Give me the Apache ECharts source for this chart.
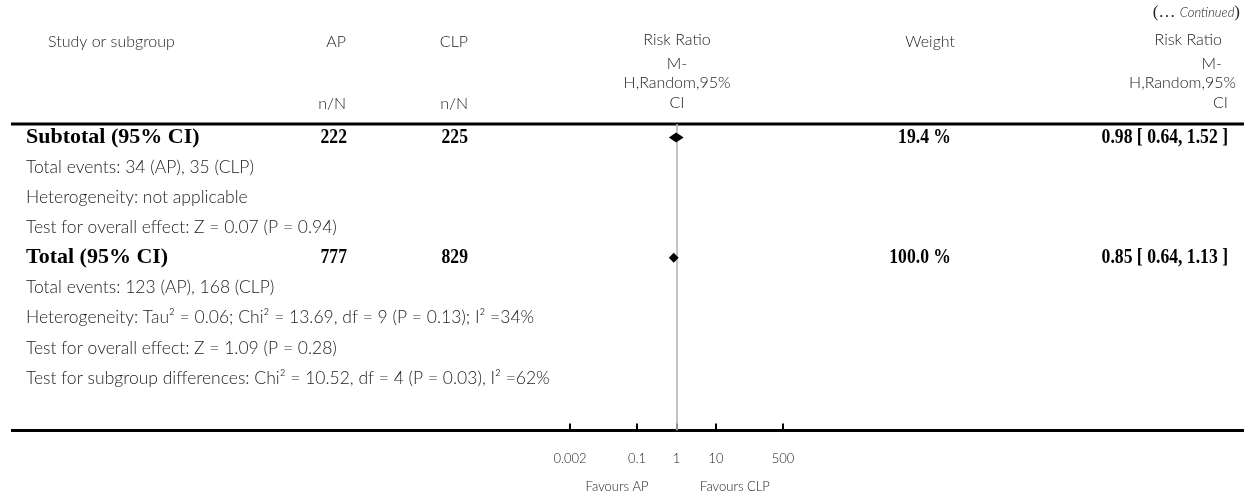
<!DOCTYPE html>
<html>
<head>
<meta charset="utf-8">
<script src="https://cdn.jsdelivr.net/npm/echarts@6/dist/echarts.min.js"></script>
<style>
  html, body { margin: 0; padding: 0; background: #fff; }
  #chart { width: 1259px; height: 496px; }
</style>
</head>
<body>
<div id="chart"></div>
<script>
// Pooled estimates (risk ratio, M-H random effects)
const pooledLabels = ['Subtotal (95% CI)', 'Total (95% CI)'];
const pooledRows = [0, 4];
const apTotals = [222, 777];
const clpTotals = [225, 829];
const weights = [19.4, 100.0];
const riskRatios = [0.98, 0.85];
const ciLower = [0.64, 0.64];
const ciUpper = [1.52, 1.13];

// Footnote lines under each pooled row
const noteRows = [1, 2, 3, 5, 6, 7, 8];
const notes = [
  'Total events: 34 (AP), 35 (CLP)',
  'Heterogeneity: not applicable',
  'Test for overall effect: Z = 0.07 (P = 0.94)',
  'Total events: 123 (AP), 168 (CLP)',
  'Heterogeneity: Tau\u00b2 = 0.06; Chi\u00b2 = 13.69, df = 9 (P = 0.13); I\u00b2 =34%',
  'Test for overall effect: Z = 1.09 (P = 0.28)',
  'Test for subgroup differences: Chi\u00b2 = 10.52, df = 4 (P = 0.03), I\u00b2 =62%'
];

// Axis ticks (log scale)
const tickValues = [0.002, 0.1, 1, 10, 500];
const tickLabels = ['0.002', '0.1', '1', '10', '500'];
const favourLabels = ['Favours AP', 'Favours CLP'];

const SANS = 'Lato';
const SERIF = '"Liberation Serif", "DejaVu Serif", serif';
const INK = '#222';

const chart = echarts.init(document.getElementById('chart'), null, { renderer: 'canvas' });

function tickLabel(v) {
  let best = 0;
  tickValues.forEach((t, i) => {
    if (Math.abs(Math.log10(t) - Math.log10(v)) < Math.abs(Math.log10(tickValues[best]) - Math.log10(v))) best = i;
  });
  return tickLabels[best];
}

const diamondData = riskRatios.map((rr, i) => [rr, ciLower[i], ciUpper[i], pooledRows[i]]);

chart.setOption({
  animation: false,
  grid: { left: 570, right: 476, top: 124, bottom: 65.5 },
  xAxis: {
    type: 'log',
    logBase: 10,
    min: tickValues[0],
    max: tickValues[tickValues.length - 1],
    axisLine: { show: false, onZero: false },
    splitLine: { show: false },
    axisTick: {
      show: true, inside: true, length: 7,
      customValues: tickValues,
      lineStyle: { color: '#000', width: 2 }
    },
    axisLabel: {
      customValues: tickValues,
      formatter: tickLabel,
      margin: 22,
      fontFamily: SANS, fontWeight: 300, fontSize: 13, color: INK
    }
  },
  yAxis: {
    type: 'value', inverse: true, min: -0.45, max: 9.75, show: false
  },
  series: [{
    type: 'custom',
    data: diamondData,
    encode: { x: 0, y: 3 },
    renderItem(params, api) {
      const row = api.value(3);
      const lo = api.coord([api.value(1), row]);
      const mid = api.coord([api.value(0), row]);
      const hi = api.coord([api.value(2), row]);
      const h = 5;
      return {
        type: 'polygon',
        shape: { points: [[lo[0], lo[1]], [mid[0], mid[1] - h], [hi[0], hi[1]], [mid[0], mid[1] + h]] },
        style: { fill: '#000' },
        z2: 10
      };
    },
    markLine: {
      silent: true,
      symbol: 'none',
      label: { show: false },
      lineStyle: { color: '#b4b4b4', width: 1.6, type: 'solid' },
      data: [{ xAxis: 1 }],
      z: 1
    },
    z: 3
  }]
});

// Table text laid out against the chart's row scale
const rowY = r => chart.convertToPixel({ yAxisIndex: 0 }, r);
const g = [];
function txt(x, y, text, opt, extra) {
  g.push(Object.assign({
    type: 'text', x, y, silent: true,
    style: Object.assign({
      text, fill: INK, fontFamily: SANS, fontWeight: 300, fontSize: 17.5,
      textAlign: 'left', textVerticalAlign: 'middle'
    }, opt || {})
  }, extra || {}));
}

// Header block
g.push({
  type: 'text', x: 1240, y: 13, silent: true,
  style: {
    text: '{p|(\u2026 }{i|Continued}{p|)}',
    textAlign: 'right', textVerticalAlign: 'middle', fill: INK,
    rich: {
      p: { fontFamily: SERIF, fontSize: 17, fill: INK },
      i: { fontFamily: SANS, fontStyle: 'italic', fontWeight: 300, fontSize: 13, fill: INK }
    }
  }
});
const head = { fontSize: 16 };
const headR = Object.assign({ textAlign: 'right' }, head);
const headC = Object.assign({ textAlign: 'center' }, head);
txt(48, 42, 'Study or subgroup', head);
txt(346, 42, 'AP', headR);
txt(468, 42, 'CLP', headR);
txt(346, 104, 'n/N', headR);
txt(468, 104, 'n/N', headR);
txt(677, 40, 'Risk Ratio', headC);
txt(677, 64, 'M-', headC);
txt(677, 83, 'H,Random,95%', headC);
txt(677, 103, 'CI', headC);
txt(955, 42, 'Weight', headR);
txt(1222, 40, 'Risk Ratio', headR);
txt(1222, 64, 'M-', headR);
txt(1236, 83, 'H,Random,95%', headR);
txt(1228, 103, 'CI', headR);

// Pooled rows: labels in bold serif, numbers in a narrower bold serif
const bold = { fontFamily: SERIF, fontWeight: 'bold', fontSize: 22, fill: '#000' };
const num = Object.assign({}, bold, { fontSize: 21, textAlign: 'right' });
const narrow = { scaleX: 0.84 };
pooledLabels.forEach((lab, i) => {
  const y = rowY(pooledRows[i]);
  txt(26, y, lab, bold);
  txt(347, y, String(apTotals[i]), num, narrow);
  txt(468, y, String(clpTotals[i]), num, narrow);
  txt(951, y, weights[i].toFixed(1) + ' %', num, narrow);
  txt(1228, y, riskRatios[i].toFixed(2) + ' [ ' + ciLower[i].toFixed(2) + ', ' + ciUpper[i].toFixed(2) + ' ]',
      num, narrow);
});

// Footnotes
notes.forEach((n, i) => txt(26, rowY(noteRows[i]), n));

// Rules above and below the table
g.push({ type: 'line', silent: true, shape: { x1: 11, y1: 124, x2: 1244, y2: 124 }, style: { stroke: '#000', lineWidth: 3 } });
g.push({ type: 'line', silent: true, shape: { x1: 11, y1: 430.5, x2: 1244, y2: 430.5 }, style: { stroke: '#000', lineWidth: 3 } });

// Favour labels under the axis
txt(chart.convertToPixel({ xAxisIndex: 0 }, 0.1) - 20, 487, favourLabels[0], { textAlign: 'center', fontSize: 13 });
txt(chart.convertToPixel({ xAxisIndex: 0 }, 10) + 19, 487, favourLabels[1], { textAlign: 'center', fontSize: 13 });

chart.setOption({ graphic: g });
</script>
</body>
</html>
